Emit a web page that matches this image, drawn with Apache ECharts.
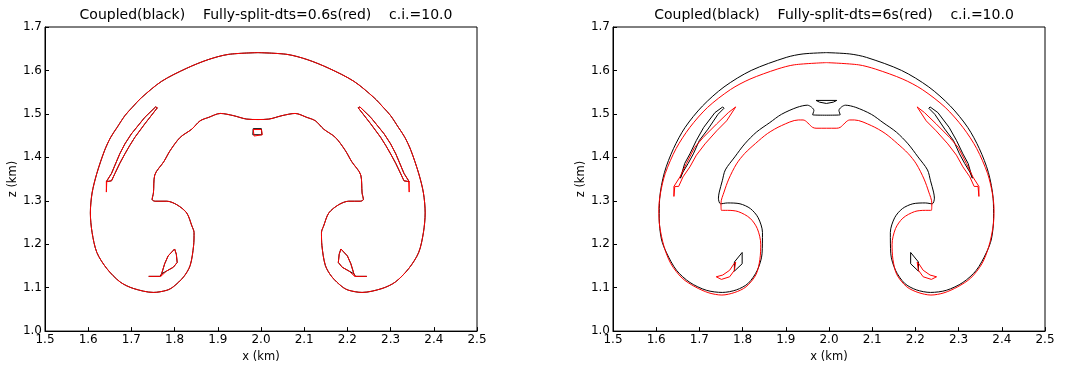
<!DOCTYPE html>
<html>
<head>
<meta charset="utf-8">
<script src="https://cdn.jsdelivr.net/npm/echarts/dist/echarts.min.js"></script>
<style>
html,body{margin:0;padding:0;background:#fff;}
#chart{width:1066px;height:368px;}
</style>
</head>
<body>
<div id="chart"></div>
<script>
// ---- axis ticks ----
const xTicks = [1.5, 1.6, 1.7, 1.8, 1.9, 2.0, 2.1, 2.2, 2.3, 2.4, 2.5];
const yTicks = [1.0, 1.1, 1.2, 1.3, 1.4, 1.5, 1.6, 1.7];
const xName = 'x (km)';
const yName = 'z (km)';
const panelTitles = [
  'Coupled(black)    Fully-split-dts=0.6s(red)    c.i.=10.0',
  'Coupled(black)    Fully-split-dts=6s(red)    c.i.=10.0'
];

// ---- panel A (dts=0.6s): black and red contours coincide ----
const aBlackOuter = [[1.993,1.641],[1.925,1.637],[1.878,1.625],[1.828,1.605],[1.770,1.575],[1.723,1.537],[1.702,1.515],[1.685,1.496],[1.667,1.469],[1.652,1.446],[1.638,1.416],[1.620,1.363],[1.609,1.318],[1.605,1.272],[1.609,1.227],[1.620,1.181],[1.643,1.144],[1.674,1.113],[1.705,1.098],[1.751,1.089],[1.782,1.094],[1.797,1.102],[1.821,1.125],[1.836,1.151],[1.844,1.197],[1.845,1.227],[1.840,1.242],[1.828,1.272],[1.805,1.291],[1.782,1.299],[1.755,1.299],[1.748,1.303],[1.751,1.318],[1.754,1.359],[1.775,1.390],[1.790,1.416],[1.813,1.446],[1.840,1.465],[1.859,1.484],[1.879,1.492],[1.906,1.501],[1.936,1.496],[1.967,1.488],[1.993,1.487],[2.018,1.488],[2.049,1.496],[2.079,1.501],[2.106,1.492],[2.126,1.484],[2.145,1.465],[2.172,1.446],[2.195,1.416],[2.210,1.390],[2.231,1.359],[2.234,1.318],[2.237,1.303],[2.230,1.299],[2.203,1.299],[2.180,1.291],[2.157,1.272],[2.145,1.242],[2.140,1.227],[2.141,1.197],[2.149,1.151],[2.164,1.125],[2.188,1.102],[2.203,1.094],[2.234,1.089],[2.280,1.098],[2.311,1.113],[2.342,1.144],[2.365,1.181],[2.376,1.227],[2.380,1.272],[2.376,1.318],[2.365,1.363],[2.347,1.416],[2.333,1.446],[2.318,1.469],[2.300,1.496],[2.283,1.515],[2.262,1.537],[2.215,1.575],[2.157,1.605],[2.107,1.625],[2.060,1.637],[1.993,1.641]];
const aRedOuter = [[1.993,1.641],[1.925,1.637],[1.878,1.625],[1.828,1.605],[1.770,1.575],[1.723,1.537],[1.702,1.515],[1.685,1.496],[1.667,1.469],[1.652,1.446],[1.638,1.416],[1.620,1.363],[1.609,1.318],[1.605,1.272],[1.609,1.227],[1.620,1.181],[1.643,1.144],[1.674,1.113],[1.705,1.098],[1.751,1.089],[1.782,1.094],[1.797,1.102],[1.821,1.125],[1.836,1.151],[1.844,1.197],[1.845,1.227],[1.840,1.242],[1.828,1.272],[1.805,1.291],[1.782,1.299],[1.755,1.299],[1.748,1.303],[1.751,1.318],[1.754,1.359],[1.775,1.390],[1.790,1.416],[1.813,1.446],[1.840,1.465],[1.859,1.484],[1.879,1.492],[1.906,1.501],[1.936,1.496],[1.967,1.488],[1.993,1.487],[2.018,1.488],[2.049,1.496],[2.079,1.501],[2.106,1.492],[2.126,1.484],[2.145,1.465],[2.172,1.446],[2.195,1.416],[2.210,1.390],[2.231,1.359],[2.234,1.318],[2.237,1.303],[2.230,1.299],[2.203,1.299],[2.180,1.291],[2.157,1.272],[2.145,1.242],[2.140,1.227],[2.141,1.197],[2.149,1.151],[2.164,1.125],[2.188,1.102],[2.203,1.094],[2.234,1.089],[2.280,1.098],[2.311,1.113],[2.342,1.144],[2.365,1.181],[2.376,1.227],[2.380,1.272],[2.376,1.318],[2.365,1.363],[2.347,1.416],[2.333,1.446],[2.318,1.469],[2.300,1.496],[2.283,1.515],[2.262,1.537],[2.215,1.575],[2.157,1.605],[2.107,1.625],[2.060,1.637],[1.993,1.641]];
const aBlackSliverL = [[1.756,1.516],[1.731,1.492],[1.700,1.454],[1.685,1.431],[1.673,1.408],[1.662,1.382],[1.654,1.363],[1.642,1.344],[1.654,1.346],[1.662,1.363],[1.673,1.386],[1.685,1.408],[1.696,1.427],[1.708,1.446],[1.731,1.477],[1.760,1.514],[1.756,1.516]];
const aRedSliverL = [[1.756,1.516],[1.731,1.492],[1.700,1.454],[1.685,1.431],[1.673,1.408],[1.662,1.382],[1.654,1.363],[1.642,1.344],[1.642,1.320],[1.643,1.344],[1.654,1.346],[1.662,1.363],[1.673,1.386],[1.685,1.408],[1.696,1.427],[1.708,1.446],[1.731,1.477],[1.760,1.514],[1.756,1.516]];
const aBlackSliverR = [[2.229,1.516],[2.254,1.492],[2.285,1.454],[2.300,1.431],[2.312,1.408],[2.323,1.382],[2.331,1.363],[2.343,1.344],[2.331,1.346],[2.323,1.363],[2.312,1.386],[2.300,1.408],[2.289,1.427],[2.277,1.446],[2.254,1.477],[2.225,1.514],[2.229,1.516]];
const aRedSliverR = [[2.229,1.516],[2.254,1.492],[2.285,1.454],[2.300,1.431],[2.312,1.408],[2.323,1.382],[2.331,1.363],[2.343,1.344],[2.343,1.320],[2.342,1.344],[2.331,1.346],[2.323,1.363],[2.312,1.386],[2.300,1.408],[2.289,1.427],[2.277,1.446],[2.254,1.477],[2.225,1.514],[2.229,1.516]];
const aBlackLoopL = [[1.740,1.126],[1.766,1.126],[1.770,1.132],[1.777,1.155],[1.785,1.173],[1.800,1.189],[1.804,1.177],[1.806,1.158],[1.797,1.147],[1.781,1.138],[1.770,1.132]];
const aRedLoopL = [[1.740,1.126],[1.768,1.126],[1.781,1.138],[1.797,1.147],[1.806,1.158],[1.804,1.177],[1.800,1.189],[1.785,1.173],[1.777,1.155],[1.770,1.132],[1.768,1.126]];
const aBlackLoopR = [[2.245,1.126],[2.219,1.126],[2.215,1.132],[2.208,1.155],[2.200,1.173],[2.185,1.189],[2.181,1.177],[2.179,1.158],[2.188,1.147],[2.204,1.138],[2.215,1.132]];
const aRedLoopR = [[2.245,1.126],[2.217,1.126],[2.204,1.138],[2.188,1.147],[2.179,1.158],[2.181,1.177],[2.185,1.189],[2.200,1.173],[2.208,1.155],[2.215,1.132],[2.217,1.126]];
const aBlackRect = [[1.982,1.466],[2.001,1.466],[2.002,1.452],[1.981,1.452],[1.982,1.466]];
const aRedRect = [[1.982,1.464],[2.001,1.464],[2.003,1.452],[1.999,1.449],[1.984,1.449],[1.980,1.452],[1.982,1.464]];

// ---- panel B (dts=6s) ----
const bBlackOuter = [[1.994,1.641],[1.940,1.638],[1.901,1.630],[1.820,1.600],[1.757,1.562],[1.707,1.518],[1.667,1.469],[1.640,1.420],[1.619,1.365],[1.608,1.305],[1.607,1.260],[1.612,1.212],[1.624,1.180],[1.647,1.140],[1.678,1.112],[1.716,1.094],[1.753,1.089],[1.786,1.095],[1.813,1.110],[1.834,1.140],[1.845,1.178],[1.846,1.227],[1.836,1.261],[1.818,1.282],[1.794,1.293],[1.765,1.295],[1.749,1.293],[1.744,1.306],[1.746,1.320],[1.753,1.346],[1.760,1.371],[1.782,1.401],[1.805,1.431],[1.832,1.458],[1.863,1.480],[1.890,1.499],[1.926,1.515],[1.950,1.520],[1.965,1.508],[1.962,1.498],[1.994,1.497],[2.026,1.498],[2.023,1.508],[2.038,1.520],[2.062,1.515],[2.098,1.499],[2.125,1.480],[2.156,1.458],[2.183,1.431],[2.206,1.401],[2.228,1.371],[2.235,1.346],[2.242,1.320],[2.244,1.306],[2.239,1.293],[2.223,1.295],[2.194,1.293],[2.170,1.282],[2.152,1.261],[2.142,1.227],[2.143,1.178],[2.154,1.140],[2.175,1.110],[2.202,1.095],[2.235,1.089],[2.272,1.094],[2.310,1.112],[2.341,1.140],[2.364,1.180],[2.376,1.212],[2.381,1.260],[2.380,1.305],[2.369,1.365],[2.348,1.420],[2.321,1.469],[2.281,1.518],[2.231,1.562],[2.168,1.600],[2.087,1.630],[2.048,1.638],[1.994,1.641]];
const bRedOuter = [[1.994,1.618],[1.920,1.613],[1.880,1.603],[1.817,1.580],[1.772,1.556],[1.719,1.515],[1.678,1.469],[1.646,1.420],[1.621,1.363],[1.610,1.318],[1.606,1.280],[1.608,1.242],[1.618,1.195],[1.634,1.155],[1.660,1.122],[1.690,1.102],[1.722,1.088],[1.752,1.083],[1.782,1.089],[1.808,1.102],[1.831,1.130],[1.840,1.165],[1.842,1.200],[1.834,1.236],[1.817,1.260],[1.790,1.275],[1.765,1.278],[1.751,1.278],[1.750,1.295],[1.757,1.320],[1.768,1.350],[1.786,1.385],[1.805,1.409],[1.830,1.432],[1.858,1.455],[1.890,1.473],[1.929,1.486],[1.940,1.486],[1.962,1.469],[1.970,1.467],[1.994,1.467],[2.018,1.467],[2.026,1.469],[2.048,1.486],[2.059,1.486],[2.098,1.473],[2.130,1.455],[2.158,1.432],[2.183,1.409],[2.202,1.385],[2.220,1.350],[2.231,1.320],[2.238,1.295],[2.237,1.278],[2.223,1.278],[2.198,1.275],[2.171,1.260],[2.154,1.236],[2.146,1.200],[2.148,1.165],[2.157,1.130],[2.180,1.102],[2.206,1.089],[2.236,1.083],[2.266,1.088],[2.298,1.102],[2.328,1.122],[2.354,1.155],[2.370,1.195],[2.380,1.242],[2.382,1.280],[2.378,1.318],[2.367,1.363],[2.342,1.420],[2.310,1.469],[2.269,1.515],[2.216,1.556],[2.171,1.580],[2.108,1.603],[2.068,1.613],[1.994,1.618]];
const bBlackLens = [[1.970,1.531],[2.018,1.531],[2.010,1.527],[1.994,1.524],[1.978,1.527],[1.970,1.531]];
const bBlackSliverL = [[1.754,1.516],[1.736,1.503],[1.710,1.469],[1.693,1.439],[1.678,1.408],[1.666,1.386],[1.656,1.352],[1.662,1.366],[1.674,1.386],[1.686,1.408],[1.700,1.439],[1.720,1.465],[1.743,1.499],[1.757,1.513],[1.754,1.516]];
const bBlackSliverR = [[2.234,1.516],[2.252,1.503],[2.278,1.469],[2.295,1.439],[2.310,1.408],[2.322,1.386],[2.332,1.352],[2.326,1.366],[2.314,1.386],[2.302,1.408],[2.288,1.439],[2.268,1.465],[2.245,1.499],[2.231,1.513],[2.234,1.516]];
const bRedSliverL = [[1.784,1.516],[1.767,1.503],[1.740,1.477],[1.709,1.446],[1.689,1.423],[1.670,1.386],[1.655,1.355],[1.641,1.333],[1.641,1.310],[1.643,1.333],[1.652,1.333],[1.662,1.355],[1.678,1.378],[1.693,1.405],[1.713,1.431],[1.740,1.461],[1.763,1.484],[1.784,1.516]];
const bRedSliverR = [[2.204,1.516],[2.221,1.503],[2.248,1.477],[2.279,1.446],[2.299,1.423],[2.318,1.386],[2.333,1.355],[2.347,1.333],[2.347,1.310],[2.345,1.333],[2.336,1.333],[2.326,1.355],[2.310,1.378],[2.295,1.405],[2.275,1.431],[2.248,1.461],[2.225,1.484],[2.204,1.516]];
const bBlackQuadL = [[1.799,1.181],[1.781,1.159],[1.781,1.138],[1.799,1.155],[1.799,1.181]];
const bBlackQuadR = [[2.189,1.181],[2.207,1.159],[2.207,1.138],[2.189,1.155],[2.189,1.181]];
const bRedCrescentL = [[1.784,1.159],[1.781,1.140],[1.770,1.125],[1.751,1.119],[1.739,1.125],[1.754,1.129],[1.770,1.140],[1.780,1.155],[1.784,1.159]];
const bRedCrescentR = [[2.204,1.159],[2.207,1.140],[2.218,1.125],[2.237,1.119],[2.249,1.125],[2.234,1.129],[2.218,1.140],[2.208,1.155],[2.204,1.159]];

// ---- build chart ----
const BLACK = '#000000', RED = '#ff0000';
const panels = [
  { black: [aBlackOuter, aBlackSliverL, aBlackSliverR, aBlackLoopL, aBlackLoopR, aBlackRect],
    red:   [aRedOuter, aRedSliverL, aRedSliverR, aRedLoopL, aRedLoopR, aRedRect] },
  { black: [bBlackOuter, bBlackLens, bBlackSliverL, bBlackSliverR, bBlackQuadL, bBlackQuadR],
    red:   [bRedOuter, bRedSliverL, bRedSliverR, bRedCrescentL, bRedCrescentR] }
];
const smoothed = [aBlackOuter, aRedOuter, bBlackOuter, bRedOuter];
const gridLefts = [45, 613];
const FONT = 'DejaVu Sans';

const chart = echarts.init(document.getElementById('chart'), null, {renderer: 'canvas'});
const grids = [], xAxes = [], yAxes = [], titles = [], series = [];
const lab = ticks => v => { const t = ticks.find(k => Math.abs(k - v) < 1e-6); return t === undefined ? '' : t.toFixed(1); };
panels.forEach((p, i) => {
  grids.push({left: gridLefts[i], top: 27, width: 432, height: 309, show: true,
              borderColor: '#000', borderWidth: 1, backgroundColor: 'transparent'});
  titles.push({text: panelTitles[i], left: gridLefts[i] + 216, top: 3, textAlign: 'center',
               textStyle: {fontFamily: FONT, fontSize: 14, fontWeight: 'normal', color: '#000'}});
  xAxes.push({type: 'value', gridIndex: i, min: xTicks[0], max: xTicks[xTicks.length - 1],
    interval: 0.1, name: xName, nameLocation: 'middle', nameGap: 17,
    nameTextStyle: {fontFamily: FONT, fontSize: 11.5, color: '#000'},
    axisLine: {show: true, onZero: false, lineStyle: {color: '#000', width: 1}},
    axisTick: {show: true, inside: true, length: 4, lineStyle: {color: '#000'}},
    axisLabel: {fontFamily: FONT, fontSize: 12, color: '#000', margin: 3, formatter: lab(xTicks)},
    splitLine: {show: false}});
  yAxes.push({type: 'value', gridIndex: i, min: yTicks[0], max: yTicks[yTicks.length - 1],
    interval: 0.1, name: yName, nameLocation: 'middle', nameGap: 26,
    nameTextStyle: {fontFamily: FONT, fontSize: 11.5, color: '#000'},
    axisLine: {show: true, onZero: false, lineStyle: {color: '#000', width: 1}},
    axisTick: {show: true, inside: true, length: 4, lineStyle: {color: '#000'}},
    axisLabel: {fontFamily: FONT, fontSize: 12, color: '#000', margin: 3, formatter: lab(yTicks)},
    splitLine: {show: false}});
  p.black.forEach(d => series.push({type: 'line', xAxisIndex: i, yAxisIndex: i, data: d,
    showSymbol: false, symbol: 'none', silent: true, z: 2, smooth: smoothed.includes(d) ? 0.3 : false,
    lineStyle: {color: BLACK, width: 1}}));
  p.red.forEach(d => series.push({type: 'line', xAxisIndex: i, yAxisIndex: i, data: d,
    showSymbol: false, symbol: 'none', silent: true, z: 3, smooth: smoothed.includes(d) ? 0.3 : false,
    lineStyle: {color: RED, width: 1}}));
});

chart.setOption({
  animation: false,
  backgroundColor: '#fff',
  title: titles,
  grid: grids,
  xAxis: xAxes,
  yAxis: yAxes,
  series: series
});
</script>
</body>
</html>
